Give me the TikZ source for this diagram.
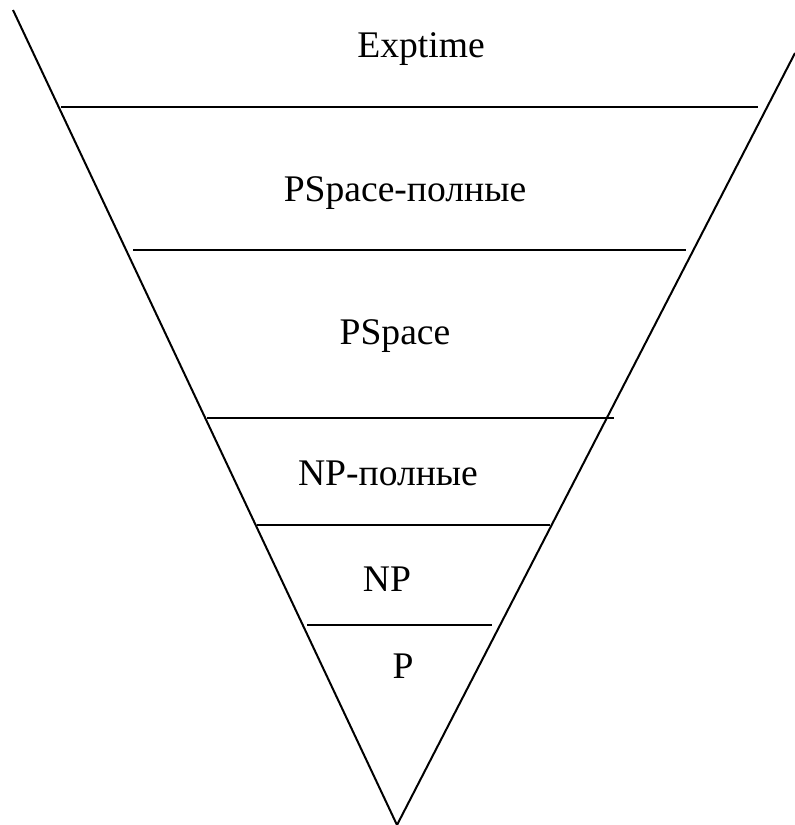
\documentclass[tikz,border=0pt]{standalone}
\usepackage{fontspec}
\setmainfont{Liberation Serif}
\tikzset{
  level/.style={anchor=base,font=\fontsize{18.8}{22}\selectfont},
  edge/.style={line width=1pt},
}
\begin{document}
\begin{tikzpicture}[x=0.5pt,y=-0.5pt]
      \useasboundingbox (0,0) rectangle (795,825);
      \coordinate (apex) at (397,825);
      \coordinate (ltop) at (13,10);
      \coordinate (rtop) at (795,53);
      \draw
        (421,57) node[level] (exptime){Exptime}
        (405,201) node[level] (pscomplete){PSpace-полные}
        (395,344) node[level] (pspace){PSpace}
        (388,485) node[level] (npcomplete){NP-полные}
        (387,591) node[level] (np){NP}
        (403,678) node[level] (p){P};
      \begin{scope}[edge]
        \draw (ltop) -- (apex) -- (rtop);
        \draw (61,107) -- (758,107);
        \draw (133,250) -- (686,250);
        \draw (207,418) -- (614,418);
        \draw (257,525) -- (550,525);
        \draw (307,625) -- (492,625);
      \end{scope}
    \end{tikzpicture}
\end{document}
